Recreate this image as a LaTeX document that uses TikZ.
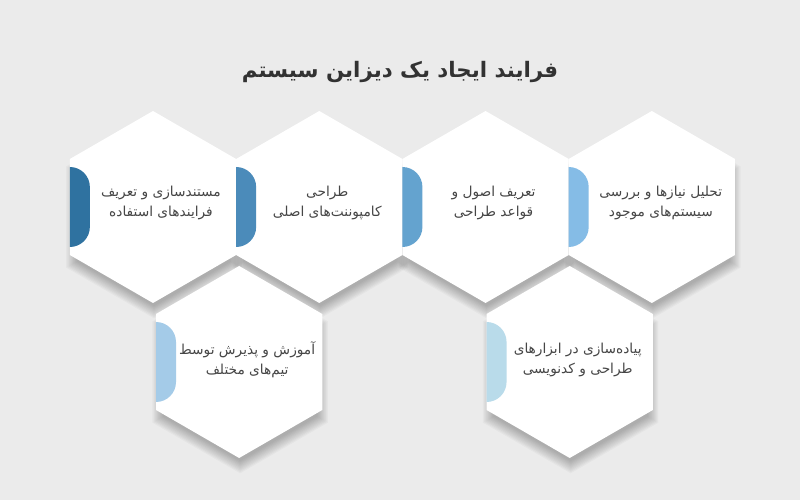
\documentclass[tikz,border=0pt]{standalone}
\usepackage{fontspec}
\newfontfamily\arabicfont[Script=Arabic]{DejaVu Sans}
\TeXXeTstate=1
\usetikzlibrary{shapes.geometric, positioning, calc, backgrounds}
\definecolor{bgColor}{RGB}{235,235,235}
\definecolor{txtColor}{RGB}{70,70,70}
\definecolor{titleColor}{RGB}{50,50,50}
\definecolor{tabOne}{RGB}{47,114,160}
\definecolor{tabTwo}{RGB}{75,139,186}
\definecolor{tabThree}{RGB}{100,163,207}
\definecolor{tabFour}{RGB}{133,188,230}
\definecolor{tabFive}{RGB}{164,203,232}
\definecolor{tabSix}{RGB}{185,219,234}
\tikzset{
    hexshape/.style={
        regular polygon,
        regular polygon sides=6,
        shape border rotate=30,
        minimum size=144pt,
        inner sep=0pt,
        outer sep=0pt
    },
    hexnode/.style={
        hexshape,
        fill=white
    },
    hexshadow/.style={
        hexshape,
        fill=black,
        fill opacity=0.028
    },
    hextext/.style={
        font=\arabicfont\fontsize{10.3}{15}\selectfont,
        text=txtColor,
        align=center
    },
    titletext/.style={
        font=\arabicfont\bfseries\fontsize{16}{20}\selectfont,
        text=titleColor
    }
}

\begin{document}
\begin{tikzpicture}[x=0.75pt, y=0.75pt]
    \useasboundingbox (0,0) rectangle (800,500);

    \node[titletext] (title) at (400,428) {\beginR فرایند ایجاد یک دیزاین سیستم\endR};

    % ردیف بالا
    \node[hexnode] (h1) at (153,293) {};
    \node[hexnode, right=0pt of h1] (h2) {};
    \node[hexnode, right=0pt of h2] (h3) {};
    \node[hexnode, right=0pt of h3] (h4) {};

    % ردیف پایین
    \node[hexnode] (h5) at ($(h1)!0.5!(h2)+(3,-155)$) {};
    \node[hexnode] (h6) at ($(h3)!0.5!(h4)+(1,-155)$) {};

    % سایه‌ها
    \begin{scope}[on background layer]
        \fill[bgColor] (0,0) rectangle (800,500);
        \foreach \h in {h1,h2,h3,h4,h5,h6}
            \foreach \k in {0,...,9}
                \node[hexshadow, minimum size={134pt+2pt*\k}] at ($(\h)+(1,-10)$) {};
    \end{scope}

    % زبانه‌ها
    \fill[tabOne] ($(h1.west)+(0,40)$) arc[start angle=90, end angle=0, radius=20] -- ++(0,-40) arc[start angle=0, end angle=-90, radius=20] -- cycle;
    \fill[tabTwo] ($(h2.west)+(0,40)$) arc[start angle=90, end angle=0, radius=20] -- ++(0,-40) arc[start angle=0, end angle=-90, radius=20] -- cycle;
    \fill[tabThree] ($(h3.west)+(0,40)$) arc[start angle=90, end angle=0, radius=20] -- ++(0,-40) arc[start angle=0, end angle=-90, radius=20] -- cycle;
    \fill[tabFour] ($(h4.west)+(0,40)$) arc[start angle=90, end angle=0, radius=20] -- ++(0,-40) arc[start angle=0, end angle=-90, radius=20] -- cycle;
    \fill[tabFive] ($(h5.west)+(0,40)$) arc[start angle=90, end angle=0, radius=20] -- ++(0,-40) arc[start angle=0, end angle=-90, radius=20] -- cycle;
    \fill[tabSix] ($(h6.west)+(0,40)$) arc[start angle=90, end angle=0, radius=20] -- ++(0,-40) arc[start angle=0, end angle=-90, radius=20] -- cycle;

    % متن‌ها
    \node[hextext] (t1) at ($(h1)+(8,4)$) {\beginR مستندسازی و تعریف\endR\\\beginR فرایندهای استفاده\endR};
    \node[hextext] (t2) at ($(h2)+(8,4)$) {\beginR طراحی\endR\\\beginR کامپوننت^^^^200cهای اصلی\endR};
    \node[hextext] (t3) at ($(h3)+(8,4)$) {\beginR تعریف اصول و\endR\\\beginR قواعد طراحی\endR};
    \node[hextext] (t4) at ($(h4)+(9,4)$) {\beginR تحلیل نیازها و بررسی\endR\\\beginR سیستم^^^^200cهای موجود\endR};
    \node[hextext] (t5) at ($(h5)+(8,2)$) {\beginR آموزش و پذیرش توسط\endR\\\beginR تیم^^^^200cهای مختلف\endR};
    \node[hextext] (t6) at ($(h6)+(8,2)$) {\beginR پیاده^^^^200cسازی در ابزارهای\endR\\\beginR طراحی و کدنویسی\endR};
\end{tikzpicture}
\end{document}
